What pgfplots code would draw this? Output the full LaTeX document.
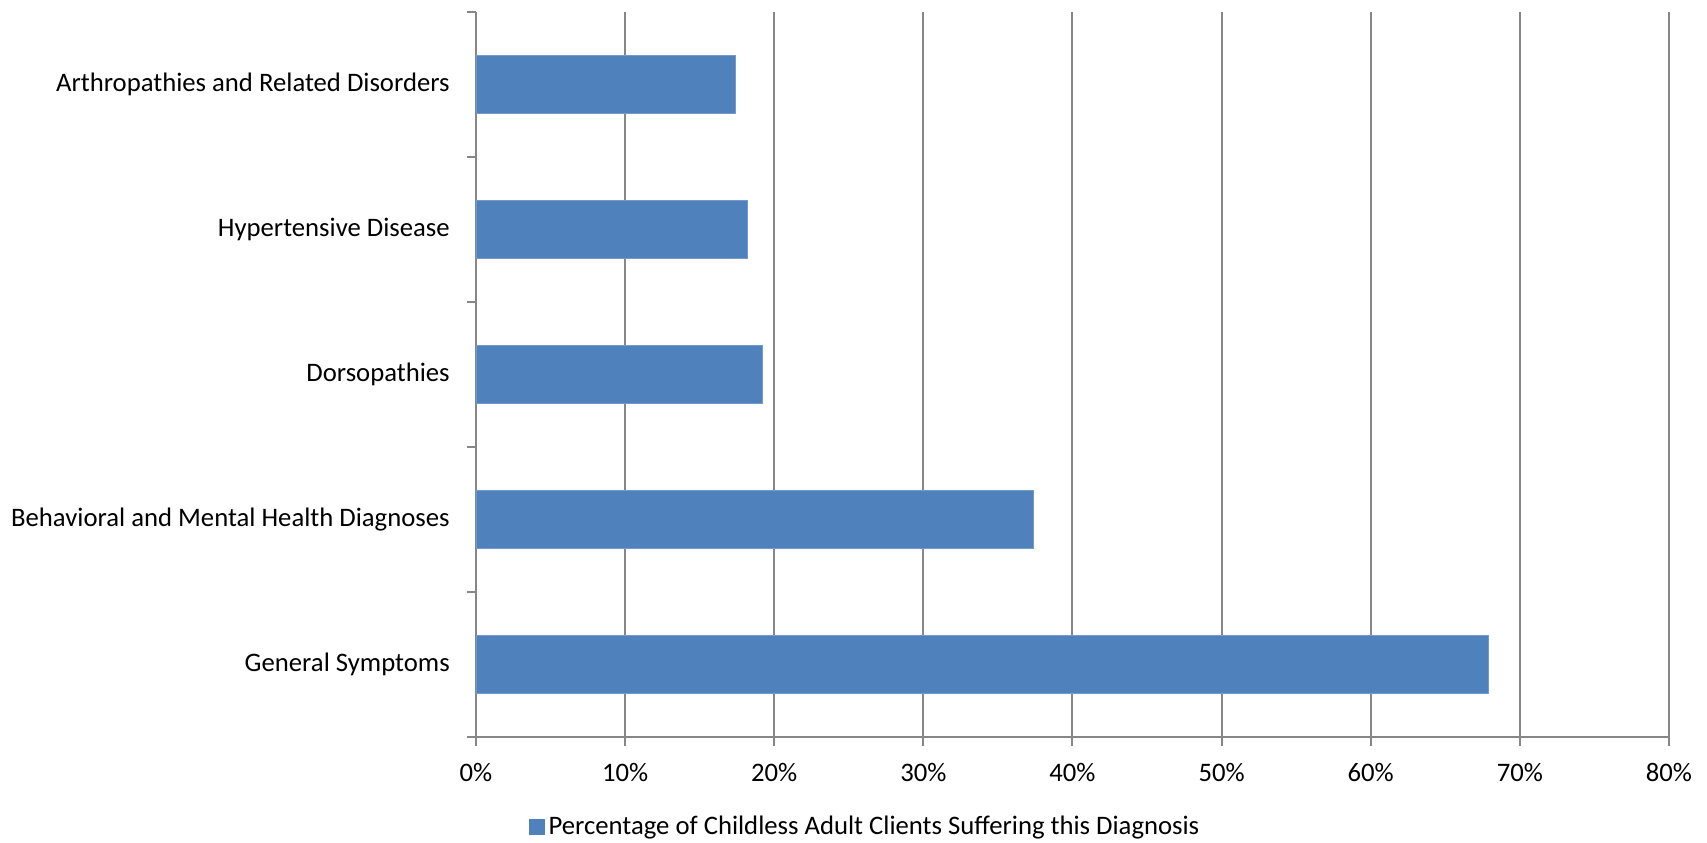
\documentclass[border=0pt]{standalone}
\usepackage{pgfplots}
\pgfplotsset{compat=1.18}
\usepackage{fontspec}
\setmainfont{Carlito}
\definecolor{barblue}{HTML}{4F81BD}
\definecolor{gridgray}{HTML}{878787}
\begin{document}
\fontsize{13.4}{16}\selectfont
\begin{tikzpicture}
\path[use as bounding box] (-238bp,-53bp) rectangle ++(853.5bp,421.5bp);
\begin{axis}[
  at={(0,0)}, anchor=south west,
  scale only axis,
  width=596.5bp, height=362.5bp,
  xbar, bar width=29bp,
  xmin=0, xmax=80,
  ymin=-0.5, ymax=4.5,
  axis x line*=bottom, axis y line*=left,
  axis line style={gridgray, line width=1pt},
  xtick={0,10,...,80},
  xticklabels={0\%,10\%,20\%,30\%,40\%,50\%,60\%,70\%,80\%},
  ytick={-0.5,0.5,1.5,2.5,3.5,4.5},
  yticklabels={},
  extra y ticks={0,1,2,3,4},
  extra y tick labels={General Symptoms,Behavioral and Mental Health Diagnoses,Dorsopathies,Hypertensive Disease,Arthropathies and Related Disorders},
  extra y tick style={major tick length=0pt, yticklabel style={xshift=-8.5bp}},
  major tick length=4.5bp,
  tick style={gridgray, line width=1pt},
  tick align=outside,
  xmajorgrids,
  grid style={gridgray, line width=1pt},
  xticklabel style={yshift=-4bp},
  /pgf/number format/assume math mode=true,
  legend style={at={(0.327,-0.124)}, anchor=center, draw=none,
    legend columns=1, font=\fontsize{13.4}{16}\selectfont,
    /tikz/every even column/.append style={column sep=2pt}},
  legend image code/.code={\fill[barblue] (0bp,-3.75bp) rectangle (7.5bp,3.75bp);},
]
\addplot[fill=barblue, draw=barblue!80!white] coordinates {
  (67.9,0)
  (37.4,1)
  (19.2,2)
  (18.2,3)
  (17.4,4)
};
\addlegendentry{Percentage of Childless Adult Clients Suffering this Diagnosis}
\end{axis}
\end{tikzpicture}
\end{document}
